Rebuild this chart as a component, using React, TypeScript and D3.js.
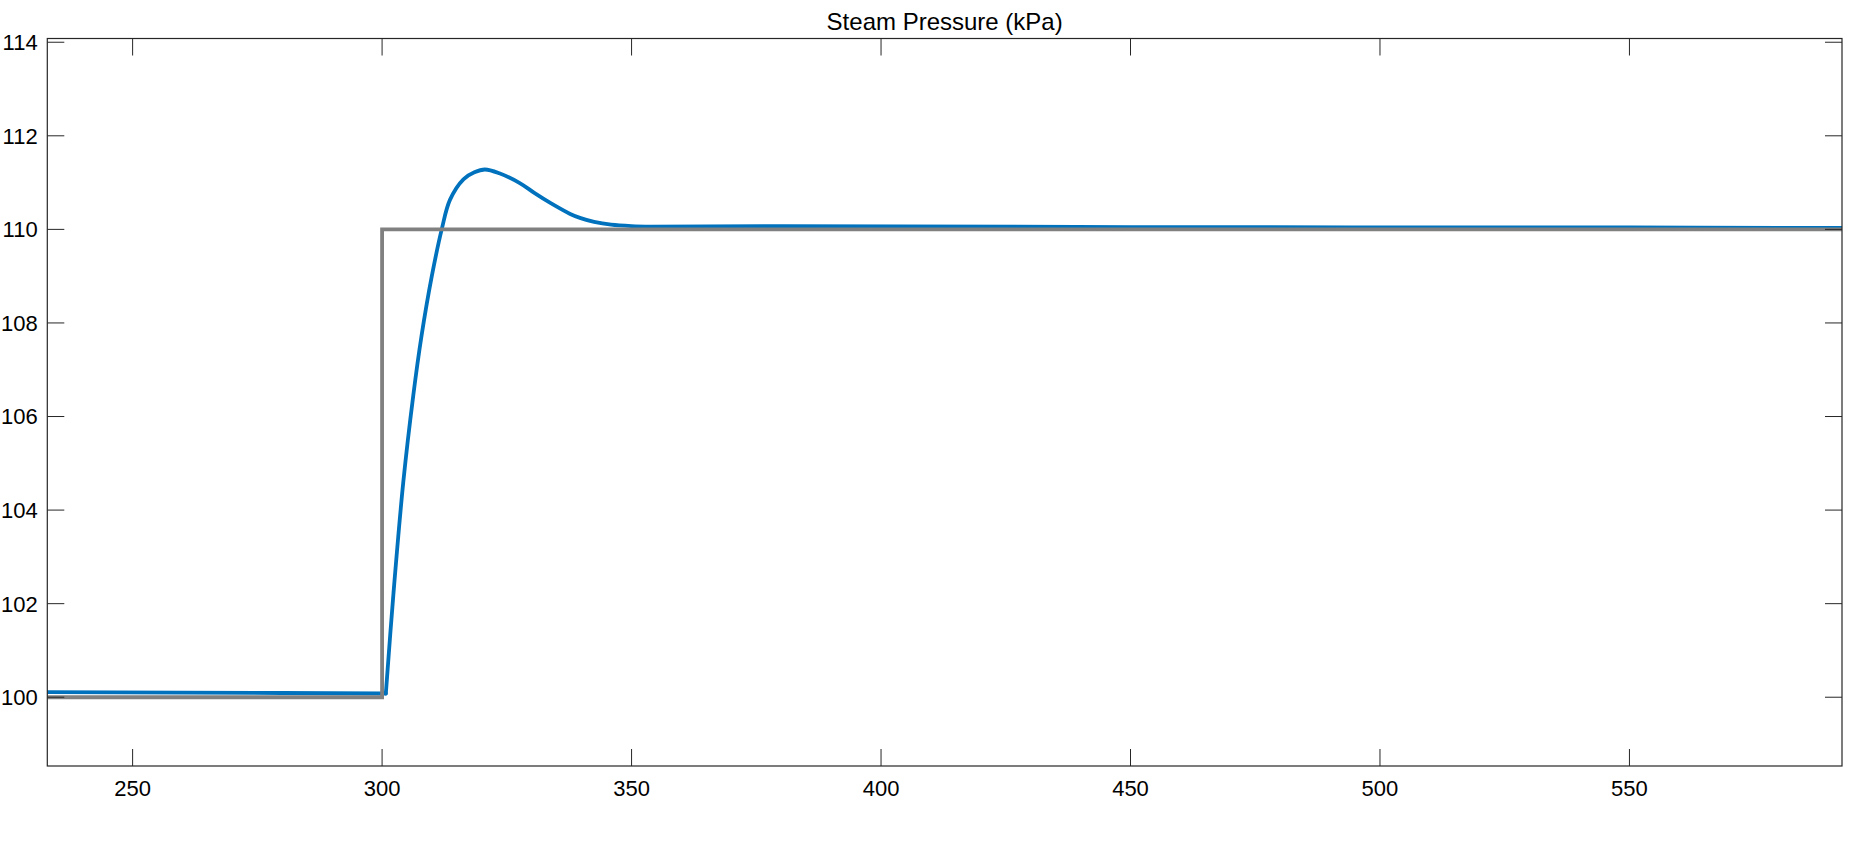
import React from "react";
import * as d3 from "d3";

const title = "Steam Pressure (kPa)";
const xTicks = [250, 300, 350, 400, 450, 500, 550];
const yTicks = [100, 102, 104, 106, 108, 110, 112, 114];
const xDomain = [232.9, 592.6];
const yDomain = [98.53, 114.08];

// measured pressure (blue): flat part before the response
const pvFlatTime = [232.9, 260, 280, 300, 300.75];
const pvFlatValue = [100.11, 100.1, 100.09, 100.08, 100.08];
// measured pressure (blue): response after the setpoint step
const pvTime = [300.75, 302.25, 304.25, 306.25, 307.9, 310, 311.95, 313.6, 316.3, 318.5, 320.6, 323.5, 327.6, 330.5, 333.8, 337.7, 339.8, 342.5, 345.9, 350, 354, 380, 450, 550, 592.6];
const pvValue = [100.08, 102.18, 104.6, 106.45, 107.72, 109.02, 110.0, 110.63, 111.07, 111.22, 111.28, 111.2, 110.99, 110.78, 110.56, 110.33, 110.24, 110.16, 110.1, 110.07, 110.06, 110.07, 110.05, 110.04, 110.03];

// setpoint (gray)
const spTime = [232.9, 300, 300, 592.6];
const spValue = [100, 100, 110, 110];

const W = 1869;
const H = 842;
const m = { left: 47.3, right: 1842, top: 38.5, bottom: 766 };

export default function App() {
  const x = d3.scaleLinear().domain(xDomain).range([m.left, m.right]);
  const y = d3.scaleLinear().domain(yDomain).range([m.bottom, m.top]);

  const pvFlat = pvFlatTime.map((t, i) => [t, pvFlatValue[i]] as [number, number]);
  const pv = pvTime.map((t, i) => [t, pvValue[i]] as [number, number]);
  const sp = spTime.map((t, i) => [t, spValue[i]] as [number, number]);

  const smoothLine = d3
    .line<[number, number]>()
    .x((d) => x(d[0]))
    .y((d) => y(d[1]))
    .curve(d3.curveCatmullRom.alpha(0.5));
  const straightLine = d3
    .line<[number, number]>()
    .x((d) => x(d[0]))
    .y((d) => y(d[1]));

  const font = "'Liberation Sans', Arial, Helvetica, sans-serif";
  const axisColor = "#262626";
  const tl = 17;

  return (
    <svg
      width={W}
      height={H}
      style={{ position: "absolute", left: 0, top: 0, background: "#fff" }}
    >
      <defs>
        <clipPath id="plotclip">
          <rect x={m.left} y={m.top} width={m.right - m.left} height={m.bottom - m.top} />
        </clipPath>
      </defs>
      <rect x={0} y={0} width={W} height={H} fill="#fff" />
      <g clipPath="url(#plotclip)">
        <path d={straightLine(pvFlat) || ""} fill="none" stroke="#0072BD" strokeWidth={3.8} strokeLinejoin="round" strokeLinecap="round" />
        <path d={smoothLine(pv) || ""} fill="none" stroke="#0072BD" strokeWidth={3.8} strokeLinejoin="round" strokeLinecap="round" />
        <path d={straightLine(sp) || ""} fill="none" stroke="#808080" strokeWidth={3.8} strokeLinejoin="miter" />
      </g>
      {xTicks.map((t) => (
        <g key={"x" + t}>
          <line x1={x(t)} x2={x(t)} y1={m.bottom} y2={m.bottom - tl} stroke={axisColor} strokeWidth={1} />
          <line x1={x(t)} x2={x(t)} y1={m.top} y2={m.top + tl} stroke={axisColor} strokeWidth={1} />
          <text x={x(t)} y={796} textAnchor="middle" fontFamily={font} fontSize={22} fill="#000">
            {t}
          </text>
        </g>
      ))}
      {yTicks.map((v) => (
        <g key={"y" + v}>
          <line x1={m.left} x2={m.left + tl} y1={y(v)} y2={y(v)} stroke={axisColor} strokeWidth={1} />
          <line x1={m.right} x2={m.right - tl} y1={y(v)} y2={y(v)} stroke={axisColor} strokeWidth={1} />
          <text x={37.7} y={y(v)} dy="0.36em" textAnchor="end" fontFamily={font} fontSize={22} fill="#000">
            {v}
          </text>
        </g>
      ))}
      <rect
        x={m.left}
        y={m.top}
        width={m.right - m.left}
        height={m.bottom - m.top}
        fill="none"
        stroke={axisColor}
        strokeWidth={1.2}
      />
      <text x={(m.left + m.right) / 2} y={30} textAnchor="middle" fontFamily={font} fontSize={24} fill="#000">
        {title}
      </text>
    </svg>
  );
}
